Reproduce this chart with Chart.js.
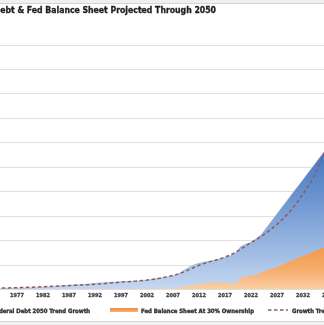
<!DOCTYPE html>
<html><head><meta charset="utf-8">
<script src="https://cdn.jsdelivr.net/npm/chart.js@4"></script>
<style>
html,body{margin:0;padding:0;background:#f0f0f0;overflow:hidden;width:324px;height:325px;}
#wrap{position:relative;width:324px;height:325px;overflow:hidden;}
#c{position:absolute;left:-100px;top:0;}
</style></head><body><div id="wrap"><canvas id="c" width="520" height="325"></canvas></div>
<script>
// ---- data ($T, y grid step 20) ----
const chartTitle = 'Federal Debt & Fed Balance Sheet Projected Through 2050';
const years = ['1966','1967','1968','1969','1970','1971','1972','1973','1974','1975','1976','1977','1978','1979','1980','1981','1982','1983','1984','1985','1986','1987','1988','1989','1990','1991','1992','1993','1994','1995','1996','1997','1998','1999','2000','2001','2002','2003','2004','2005','2006','2007','2008','2009','2010','2011','2012','2013','2014','2015','2016','2017','2018','2019','2020','2021','2022','2023','2024','2025','2026','2027','2028','2029','2030','2031','2032','2033','2034','2035','2036','2037','2038','2039','2040','2041','2042','2043','2044','2045','2046','2047','2048','2049','2050'];
const tickLabels = ['1967','1972','1977','1982','1987','1992','1997','2002','2007','2012','2017','2022','2027','2032','2037','2042','2047'];
const debtTrend = [0.3,0.3,0.4,0.4,0.5,0.5,0.6,0.6,0.7,0.8,0.9,1.0,1.1,1.2,1.3,1.5,1.7,2.0,2.3,2.6,3.0,3.3,3.6,3.9,4.2,4.6,5.0,5.3,5.6,5.9,6.1,6.3,6.5,6.7,6.8,7.0,7.5,8.2,8.9,9.6,10.3,11.0,12.5,15.5,18.0,20.0,21.5,22.3,23.2,23.8,25.0,26.0,27.5,29.5,35.0,37.0,38.5,41.5,45.0,50.5,56.3,61.8,67.5,73.0,78.7,84.2,89.8,95.5,101.0,106.7,112.2,117.8,123.5,129.0,134.7,140.2,145.8,151.5,157.0,162.7,168.2,173.8,179.5,185.0,190.6];
const fedBalance = [0.1,0.1,0.1,0.1,0.1,0.1,0.1,0.2,0.2,0.2,0.2,0.2,0.2,0.2,0.2,0.2,0.2,0.3,0.3,0.3,0.3,0.3,0.3,0.3,0.3,0.4,0.4,0.4,0.4,0.4,0.5,0.5,0.5,0.5,0.6,0.6,0.6,0.7,0.7,0.8,0.8,0.9,1.5,2.5,3.0,3.5,4.0,5.0,5.5,5.5,5.5,5.5,5.0,4.5,9.5,10.5,11.0,12.0,14.0,15.5,17.0,18.5,20.3,22.0,24.0,25.8,27.5,29.0,30.8,32.5,34.0,36.0,38.0,40.0,42.0,44.0,46.0,48.0,50.0,52.0,54.0,56.0,58.0,60.0,62.0];
const growthTrend = [0.8,0.85,0.9,0.95,1.0,1.05,1.1,1.15,1.2,1.3,1.4,1.5,1.6,1.75,1.9,2.05,2.2,2.4,2.6,2.8,3.0,3.2,3.4,3.6,3.8,4.0,4.3,4.5,4.9,5.3,5.6,6.0,6.3,6.6,6.9,7.3,7.7,8.2,8.8,9.6,10.5,11.5,12.7,14.2,16.0,18.0,19.8,21.3,22.6,23.8,25.0,26.5,28.2,30.2,33.0,35.8,38.3,40.8,43.5,46.5,49.8,53.3,57.2,61.6,66.5,72.0,78.0,84.5,91.5,101.0,111.0,120.0,128.0,136.0,143.0,149.0,155.0,160.0,165.0,170.0,175.0,179.0,183.0,187.0,191.0];
const seriesLabels = ['Federal Debt 2050 Trend Growth','Fed Balance Sheet At 30% Ownership','Growth Trend'];

// ---- layout ----
const OFF = 100; // canvas is shifted left by this many px (cropped view)
const FONT = '"Liberation Sans Narrow", "DejaVu Sans Condensed", Lato, sans-serif';
const mctx = document.createElement('canvas').getContext('2d');
function fitSize(text, target){ mctx.font = 'bold 100px ' + FONT; return 100*target/mctx.measureText(text).width; }
const titleSize = fitSize('ebt & Fed Balance Sheet Projected Through 2050', 216);
const legendSize = fitSize('Fed Balance Sheet At 30% Ownership', 113);
const tickSize = Math.max(5.5, fitSize('1977', 10.5));

function blueFill(ctx){
  const a = ctx.chart.chartArea; if(!a) return '#7fa3d8';
  const g = ctx.chart.ctx.createLinearGradient(0,a.top,0,a.bottom);
  g.addColorStop(0,'#2c5fab'); g.addColorStop(0.45,'#4779c0'); g.addColorStop(0.63,'#6c95d0');
  g.addColorStop(0.82,'#99b7e1'); g.addColorStop(1,'#c6d8f0');
  return g;
}
function orangeFill(ctx){
  const a = ctx.chart.chartArea; if(!a) return '#f4a460';
  const g = ctx.chart.ctx.createLinearGradient(0,a.top,0,a.bottom);
  g.addColorStop(0,'#e8801f'); g.addColorStop(0.8,'#f29440'); g.addColorStop(0.92,'#f6ad6c'); g.addColorStop(1,'#fbcfa5');
  return g;
}

function boldText(c, t, x, y){ c.fillText(t, x, y); c.strokeText(t, x, y); }

const frame = {
  id:'frame',
  beforeDraw(chart){
    const c = chart.ctx; c.save();
    c.fillStyle='#f0f0f0'; c.fillRect(0,0,chart.width,chart.height);
    c.fillStyle='#ffffff'; c.fillRect(0,3,chart.width,318);
    c.strokeStyle='#d4d4d4'; c.lineWidth=1;
    c.beginPath(); c.moveTo(0,3.5); c.lineTo(chart.width,3.5); c.moveTo(0,321.5); c.lineTo(chart.width,321.5); c.stroke();
    c.restore();
  },
  afterDraw(chart){
    const c = chart.ctx; c.save();
    // title
    c.fillStyle='#1f1f1f'; c.strokeStyle='#1f1f1f'; c.lineWidth=0.3;
    c.font='bold '+titleSize.toFixed(2)+'px '+FONT;
    c.textAlign='right'; c.textBaseline='middle';
    boldText(c, chartTitle, OFF+216, 11);
    // legend
    const ly = 311;
    c.font='bold '+legendSize.toFixed(2)+'px '+FONT; c.fillStyle='#333333'; c.strokeStyle='#333333'; c.lineWidth=0.35;
    c.textAlign='right'; boldText(c, seriesLabels[0], OFF+90, ly);
    const w0 = c.measureText(seriesLabels[0]).width;
    const sx0 = OFF+90-w0-32;
    let gb = c.createLinearGradient(0,ly-3,0,ly+2); gb.addColorStop(0,'#4b7dc3'); gb.addColorStop(1,'#9bb9e2');
    c.fillStyle=gb; c.fillRect(sx0, ly-3, 28, 4);
    let go = c.createLinearGradient(0,ly-3,0,ly+2); go.addColorStop(0,'#ef8a3a'); go.addColorStop(1,'#f8be8a');
    c.fillStyle=go; c.fillRect(OFF+110, ly-3, 28, 4);
    c.fillStyle='#333333'; c.textAlign='left'; boldText(c, seriesLabels[1], OFF+141, ly);
    c.save();
    c.strokeStyle='#8a5d66'; c.lineWidth=1.5; c.setLineDash([3.5,2.5]);
    c.beginPath(); c.moveTo(OFF+268, ly-1); c.lineTo(OFF+288, ly-1); c.stroke();
    c.restore();
    boldText(c, seriesLabels[2], OFF+292, ly);
    c.restore();
  }
};

new Chart(document.getElementById('c'), {
  type:'line',
  data:{
    labels: years,
    datasets:[
      {label:seriesLabels[0], data:debtTrend, fill:'origin', backgroundColor:blueFill, borderColor:'rgba(150,165,195,0.55)', borderWidth:1, pointRadius:0, tension:0, order:3},
      {label:seriesLabels[1], data:fedBalance, fill:'origin', backgroundColor:orangeFill, borderWidth:0, borderColor:'rgba(0,0,0,0)', pointRadius:0, tension:0, order:2},
      {label:seriesLabels[2], data:growthTrend, fill:false, borderColor:'#8a5d66', borderDash:[3.5,2.5], borderWidth:1.5, pointRadius:0, tension:0, order:1}
    ]
  },
  options:{
    responsive:false, animation:false, devicePixelRatio:1,
    layout:{padding:{left:59.8, right:23.4, top:45, bottom:23.5}},
    plugins:{legend:{display:false}, title:{display:false}, tooltip:{enabled:false}},
    scales:{
      x:{
        grid:{display:false, drawTicks:false}, border:{display:false},
        ticks:{autoSkip:false, maxRotation:0, minRotation:0, padding:3, color:'#404040',
          textStrokeColor:'#404040', textStrokeWidth:0.3,
          font:{family:FONT, size:tickSize, weight:'bold'},
          callback:function(v, i){ return tickLabels.includes(years[i]) ? years[i] : ''; }},
        afterFit(s){ s.height = 12; }
      },
      y:{
        min:0, max:200,
        ticks:{display:false, stepSize:20},
        grid:{color:'#e0e0e0', drawTicks:false, lineWidth:1}, border:{display:false},
        afterFit(s){ s.width = 0; }
      }
    }
  },
  plugins:[frame]
});
</script></body></html>
